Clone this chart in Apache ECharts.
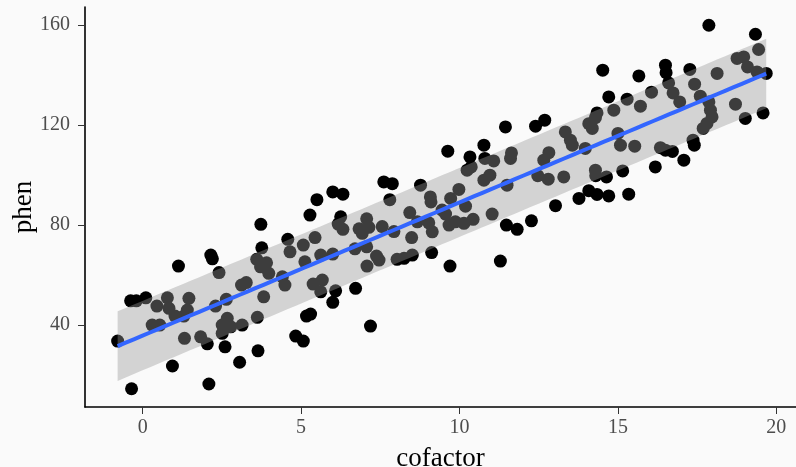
<!DOCTYPE html>
<html>
<head>
<meta charset="utf-8">
<script src="https://cdn.jsdelivr.net/npm/echarts@6/dist/echarts.min.js"></script>
<style>
  html, body { margin: 0; padding: 0; background: #fafafa; }
  #chart { width: 796px; height: 467px; }
</style>
</head>
<body>
<div id="chart"></div>
<script>
// scatter data (x = cofactor, y = phen)
const cofactor = [
  -0.79, -0.35, -0.38, -0.2, 0.1, 0.3, 0.54, 0.45, 0.78, 0.83, 1.02, 1.3, 1.41, 1.46, 1.13, 0.94, 1.32, 1.83, 2.04, 2.09,
  2.15, 2.2, 2.41, 2.3, 2.51, 2.51, 2.64, 2.67, 2.78, 2.6, 3.06, 3.12, 3.27, 3.14, 3.62, 3.64, 3.6, 3.72, 3.91, 3.98,
  3.76, 3.73, 3.82, 4.41, 4.49, 4.58, 4.65, 4.83, 5.07, 5.07, 5.12, 5.17, 5.3, 5.28, 5.5, 5.44, 5.62, 5.38, 5.67, 5.62,
  6.0, 6.32, 6.25, 6.17, 6.32, 6.0, 6.09, 6.0, 6.72, 6.7, 7.07, 7.07, 7.14, 6.83, 6.93, 7.38, 7.46, 7.08, 7.19, 7.56,
  7.61, 7.88, 7.8, 7.93, 8.03, 8.25, 8.51, 8.43, 8.67, 8.49, 8.77, 9.08, 9.1, 9.03, 9.14, 9.12, 9.7, 9.63, 9.98, 9.72,
  10.19, 9.45, 9.56, 9.87, 9.67, 10.14, 10.43, 10.33, 10.77, 10.8, 11.08, 10.37, 10.24, 10.96, 10.77, 11.03, 11.45, 11.64, 11.61, 11.5,
  11.29, 11.48, 11.82, 12.27, 12.4, 12.69, 12.66, 12.82, 12.47, 12.8, 13.03, 13.29, 13.34, 13.5, 13.56, 13.97, 14.08, 14.19, 14.29, 14.34,
  14.29, 14.3, 14.64, 14.52, 14.71, 14.87, 15.0, 15.08, 15.15, 15.29, 15.34, 15.53, 15.66, 15.71, 16.06, 16.18, 16.34, 16.5, 16.72, 16.5,
  16.52, 16.6, 16.74, 16.95, 17.08, 17.27, 17.42, 17.37, 17.41, 17.6, 17.87, 17.92, 17.97, 17.81, 17.69, 17.87, 18.13, 18.71, 18.76, 18.97,
  19.09, 19.02, 19.34, 19.44, 19.39, 19.68, 19.58, 13.77, 14.08, 14.34, 14.71
];
const phen = [
  33.6, 14.5, 49.7, 49.7, 50.9, 40, 40, 47.6, 50.9, 46.7, 43.6, 43.6, 46, 50.7, 63.6, 23.6, 34.7, 35.3, 32.5, 16.4,
  68, 66.5, 61, 47.6, 40, 36.7, 50.3, 42.7, 39.3, 31.3, 25.1, 56, 57, 40, 43.1, 29.7, 66.3, 63.3, 64.9, 60.7,
  70.9, 80.3, 51.3, 59.3, 56, 74.3, 69.3, 35.6, 33.6, 72, 65.3, 43.6, 44.4, 84, 90.2, 75, 68, 56.4, 58, 53.3,
  93.3, 92.4, 83.3, 80.4, 78.3, 68.4, 53.7, 49.1, 54.7, 70.5, 71.3, 82.5, 79.1, 78.5, 76.7, 67.6, 66, 63.6, 39.6, 79.4,
  97.3, 96.6, 90.2, 77.4, 66.3, 66.7, 68, 85, 81.3, 75, 96, 91.3, 89.3, 80.9, 77.3, 69, 63.6, 109.6, 94.3, 90.7,
  87.6, 86, 84.4, 81.3, 80, 80.7, 82.3, 107.3, 112, 106.7, 105.7, 103.3, 102, 100, 98, 84.4, 119.3, 108.9, 106.7, 96,
  65.6, 80, 78.3, 81.7, 119.6, 122, 106, 109, 99.8, 98.4, 87.8, 99.3, 117.3, 114, 112, 110.7, 120.6, 118.7, 123, 124.9,
  102, 99.8, 99.3, 142, 131.3, 126, 116.7, 112, 101.7, 130.4, 92.4, 111.6, 139.7, 127.6, 133.2, 103.3, 111, 110, 109.5, 144,
  141, 136.9, 132.9, 129.3, 106, 142.3, 136.4, 114, 112, 131.6, 129.3, 126, 123.3, 120.7, 118.7, 160, 140.7, 128.4, 146.7, 147.3,
  143.3, 122.7, 156.4, 150.3, 141.3, 140.7, 124.9, 90.7, 93.8, 92.3, 91.7
];
const xTicks = [0, 5, 10, 15, 20];
const yTicks = [40, 80, 120, 160];

// least squares fit + band of one residual sd (prediction scale), computed from the points
function fitBand(xs, ys, steps) {
  const n = xs.length;
  const mx = xs.reduce((a, b) => a + b, 0) / n;
  const my = ys.reduce((a, b) => a + b, 0) / n;
  let sxx = 0, sxy = 0;
  xs.forEach((x, i) => { sxx += (x - mx) ** 2; sxy += (x - mx) * (ys[i] - my); });
  const b = sxy / sxx, a = my - b * mx;
  let sse = 0;
  xs.forEach((x, i) => { sse += (ys[i] - a - b * x) ** 2; });
  const s = Math.sqrt(sse / (n - 2));
  const lo = Math.min(...xs), hi = Math.max(...xs);
  const fit = [], upper = [], lower = [];
  for (let k = 0; k <= steps; k++) {
    const x = lo + (hi - lo) * k / steps;
    const yh = a + b * x;
    const w = s * Math.sqrt(1 + 1 / n + (x - mx) ** 2 / sxx);
    fit.push([x, yh]);
    upper.push([x, yh + w]);
    lower.push([x, yh - w]);
  }
  return { fit, upper, lower };
}

const band = fitBand(cofactor, phen, 80);
const FONT = '"Liberation Serif", "DejaVu Serif", serif';

const chart = echarts.init(document.getElementById('chart'));
chart.setOption({
  animation: false,
  backgroundColor: '#fafafa',
  grid: { left: 85, right: 0, top: 7, bottom: 60, outerBoundsMode: 'none', containLabel: false },
  xAxis: {
    type: 'value', min: -1.82, max: 20.62,
    name: 'cofactor', nameLocation: 'middle', nameGap: 38, nameMoveOverlap: false,
    nameTextStyle: { color: '#000', fontSize: 27, fontFamily: FONT },
    axisLine: { show: true, onZero: false, lineStyle: { color: '#000', width: 1.6 } },
    axisTick: { show: true, length: 7, customValues: xTicks, lineStyle: { color: '#333' } },
    axisLabel: { customValues: xTicks, color: '#4d4d4d', fontSize: 20, fontFamily: FONT, margin: 11 },
    splitLine: { show: false }
  },
  yAxis: {
    type: 'value', min: 7.2, max: 167.3,
    name: 'phen', nameLocation: 'middle', nameGap: 48, nameRotate: 90, nameMoveOverlap: false,
    nameTextStyle: { color: '#000', fontSize: 27, fontFamily: FONT },
    axisLine: { show: true, onZero: false, lineStyle: { color: '#000', width: 1.6 } },
    axisTick: { show: true, length: 7, customValues: yTicks, lineStyle: { color: '#333' } },
    axisLabel: { customValues: yTicks, color: '#4d4d4d', fontSize: 20, fontFamily: FONT, margin: 15 },
    splitLine: { show: false }
  },
  series: [
    {
      type: 'scatter', z: 1,
      symbolSize: 13,
      itemStyle: { color: '#000', opacity: 1 },
      data: cofactor.map((x, i) => [x, phen[i]])
    },
    {
      // ribbon drawn over the points, like geom_smooth
      type: 'custom', z: 2, silent: true,
      data: [0],
      renderItem: (params, api) => {
        const pts = band.upper.map(p => api.coord(p))
          .concat(band.lower.slice().reverse().map(p => api.coord(p)));
        return { type: 'polygon', shape: { points: pts }, style: { fill: 'rgba(153,153,153,0.4)' } };
      }
    },
    {
      type: 'line', z: 3, symbol: 'none', silent: true,
      lineStyle: { color: '#3366FF', width: 4 },
      data: band.fit
    }
  ]
});
window.addEventListener('resize', () => chart.resize());
</script>
</body>
</html>
